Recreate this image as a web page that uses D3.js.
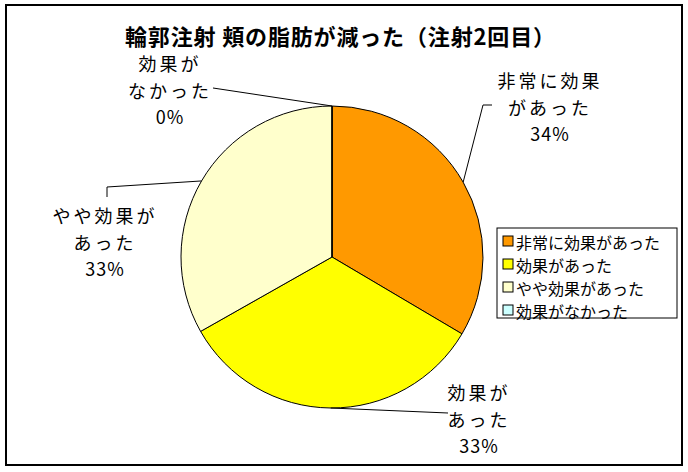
<!DOCTYPE html>
<html>
<head>
<meta charset="utf-8">
<script src="https://cdn.jsdelivr.net/npm/d3@7"></script>
<style>
  body { margin: 0; background: #fff; }
  svg text { font-family: "Noto Sans CJK JP", "Noto Sans", sans-serif; }
</style>
</head>
<body>
<svg></svg>
<script>
// Data
const categories = ["非常に効果があった", "効果があった", "やや効果があった", "効果がなかった"];
const values = [33.5, 33.3, 33.2, 0];
const labelLines = [["非常に効果", "があった"], ["効果が", "あった"], ["やや効果が", "あった"], ["効果が", "なかった"]];
const colors = ["#FF9900", "#FFFF00", "#FFFFCC", "#CCFFFF"];

const W = 688, H = 472;
const cx = 332, cy = 257, r = 151;

// Label placement (center x, first line y, leader path after the pie edge point)
const labelPos = [
  { x: 550, y: 80, leader: [[483, 105], [492, 105]] },
  { x: 479, y: 392, leader: [[448, 413]] },
  { x: 105, y: 215, leader: [[107, 187], [107, 197]] },
  { x: 170, y: 63, leader: [[213, 88]] }
];

const svg = d3.select("svg")
  .attr("width", W)
  .attr("height", H);

// Outer border
svg.append("rect")
  .attr("x", 6).attr("y", 5)
  .attr("width", 676).attr("height", 460)
  .attr("fill", "#fff")
  .attr("stroke", "#000")
  .attr("stroke-width", 2);

// Title
svg.append("text")
  .attr("x", 340).attr("y", 35)
  .attr("text-anchor", "middle")
  .attr("dominant-baseline", "central")
  .attr("textLength", 430)
  .attr("lengthAdjust", "spacing")
  .style("font-size", "22px")
  .style("font-weight", "bold")
  .text("輪郭注射 頬の脂肪が減った（注射2回目）");

const data = categories.map((c, i) => ({ name: c, value: values[i], i }));

const pie = d3.pie().sort(null).value(d => d.value);
const arc = d3.arc().innerRadius(0).outerRadius(r);
const edgeArc = d3.arc().innerRadius(r).outerRadius(r);

const g = svg.append("g").attr("transform", `translate(${cx},${cy})`);
const arcs = pie(data);

g.selectAll("path.slice")
  .data(arcs)
  .enter().append("path")
  .attr("class", "slice")
  .attr("d", arc)
  .attr("fill", d => colors[d.data.i])
  .attr("stroke", "#000")
  .attr("stroke-width", 1);

// Leader lines
const line = d3.line();
arcs.forEach(d => {
  const [ex, ey] = edgeArc.centroid(d);
  const pts = [[cx + ex, cy + ey]].concat(labelPos[d.data.i].leader);
  svg.append("path")
    .attr("d", line(pts))
    .attr("fill", "none")
    .attr("stroke", "#000")
    .attr("stroke-width", 1);
});

// Data labels
const total = d3.sum(values);
arcs.forEach(d => {
  const p = labelPos[d.data.i];
  const lines = labelLines[d.data.i].concat([Math.round(d.data.value / total * 100) + "%"]);
  const t = svg.append("text")
    .attr("text-anchor", "middle")
    .style("font-size", "18px");
  lines.forEach((s, k) => {
    t.append("tspan")
      .attr("x", p.x)
      .attr("y", p.y + k * 26.5)
      .attr("dominant-baseline", "central")
      .style("letter-spacing", k < 2 ? "3px" : "1px")
      .text(s);
  });
});

// Legend
const legend = svg.append("g");
legend.append("rect")
  .attr("x", 497).attr("y", 228)
  .attr("width", 180).attr("height", 90)
  .attr("fill", "#fff")
  .attr("stroke", "#000")
  .attr("stroke-width", 1);

const items = legend.selectAll("g.item")
  .data(data)
  .enter().append("g")
  .attr("class", "item")
  .attr("transform", (d, i) => `translate(503, ${241 + i * 23})`);

items.append("rect")
  .attr("x", 0).attr("y", -5)
  .attr("width", 10).attr("height", 10)
  .attr("fill", (d, i) => colors[i])
  .attr("stroke", "#000")
  .attr("stroke-width", 1);

items.append("text")
  .attr("x", 13).attr("y", 1)
  .attr("dominant-baseline", "central")
  .style("font-size", "16px")
  .text(d => d.name);
</script>
</body>
</html>
